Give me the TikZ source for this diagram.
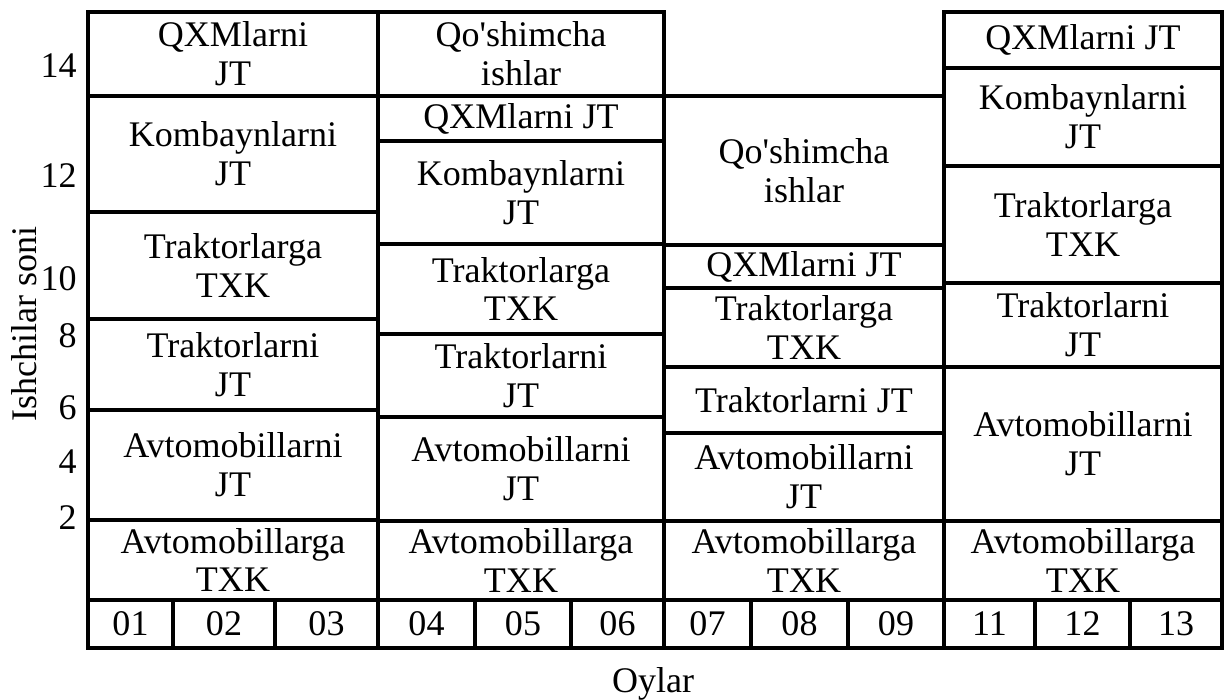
\documentclass[tikz,border=0pt]{standalone}
\usepackage{fontspec}
\setmainfont{Liberation Serif}
\usetikzlibrary{calc}

% one block of the chart: name, x1, y1, x2, y2, text
\newcommand{\blok}[6]{%
  \draw[frame] (#2,#3) rectangle (#4,#5);
  \node[txt] (#1) at ($(#2,#3)!0.5!(#4,#5)$) {#6};
}

\begin{document}
\begin{tikzpicture}[
  x=0.02cm, y=-0.02cm,
  frame/.style = {line width=2pt, line join=miter},
  txt/.style = {align=center, inner sep=0pt, font=\fontsize{20.5}{22}\selectfont},
  tick/.style = {anchor=east, inner sep=0pt, font=\fontsize{20.5}{22}\selectfont},
  every node/.style = {text=black}
]

\useasboundingbox (0,0) rectangle (1225,700);

% Column 1
\blok{qxmA}{88}{12}{378}{96}{QXMlarni\\JT}
\blok{kombA}{88}{96}{378}{212}{Kombaynlarni\\JT}
\blok{trgaA}{88}{212}{378}{319}{Traktorlarga\\TXK}
\blok{trniA}{88}{319}{378}{410}{Traktorlarni\\JT}
\blok{avniA}{88}{410}{378}{520}{Avtomobillarni\\JT}
\blok{avgaA}{88}{520}{378}{600}{Avtomobillarga\\TXK}

% Column 2
\blok{qoshB}{378}{12}{664}{96}{Qo\textquotesingle shimcha\\ishlar}
\blok{qxmB}{378}{96}{664}{141}{QXMlarni JT}
\blok{kombB}{378}{141}{664}{244}{Kombaynlarni\\JT}
\blok{trgaB}{378}{244}{664}{334}{Traktorlarga\\TXK}
\blok{trniB}{378}{334}{664}{417}{Traktorlarni\\JT}
\blok{avniB}{378}{417}{664}{521}{Avtomobillarni\\JT}
\blok{avgaB}{378}{521}{664}{600}{Avtomobillarga\\TXK}

% Column 3
\blok{qoshC}{664}{96}{944}{245}{Qo\textquotesingle shimcha\\ishlar}
\blok{qxmC}{664}{245}{944}{288}{QXMlarni JT}
\blok{trgaC}{664}{288}{944}{367}{Traktorlarga\\TXK}
\blok{trniC}{664}{367}{944}{433}{Traktorlarni JT}
\blok{avniC}{664}{433}{944}{521}{Avtomobillarni\\JT}
\blok{avgaC}{664}{521}{944}{600}{Avtomobillarga\\TXK}

% Column 4
\blok{qxmD}{944}{12}{1222}{68}{QXMlarni JT}
\blok{kombD}{944}{68}{1222}{166}{Kombaynlarni\\JT}
\blok{trgaD}{944}{166}{1222}{283}{Traktorlarga\\TXK}
\blok{trniD}{944}{283}{1222}{367}{Traktorlarni\\JT}
\blok{avniD}{944}{367}{1222}{521}{Avtomobillarni\\JT}
\blok{avgaD}{944}{521}{1222}{600}{Avtomobillarga\\TXK}

% Months row
\foreach \a/\b/\m in {88/173/01, 173/275/02, 275/378/03,
                       378/475/04, 475/571/05, 571/664/06,
                       664/751/07, 751/848/08, 848/944/09,
                       944/1035/11, 1035/1130/12, 1130/1222/13}
  {\blok{oy\m}{\a}{600}{\b}{648}{\m}}

% Y axis numbers
\node[tick] (n14) at (77,66) {14};
\node[tick] (n12) at (77,176) {12};
\node[tick] (n10) at (77,279) {10};
\node[tick] (n8) at (77,336) {8};
\node[tick] (n6) at (77,408) {6};
\node[tick] (n4) at (77,462) {4};
\node[tick] (n2) at (77,518) {2};

% Axis titles
\node[txt, rotate=90] (ishchi) at (24,324) {Ishchilar soni};
\node[txt] (oylar) at (653,684) {Oylar};

\end{tikzpicture}
\end{document}
